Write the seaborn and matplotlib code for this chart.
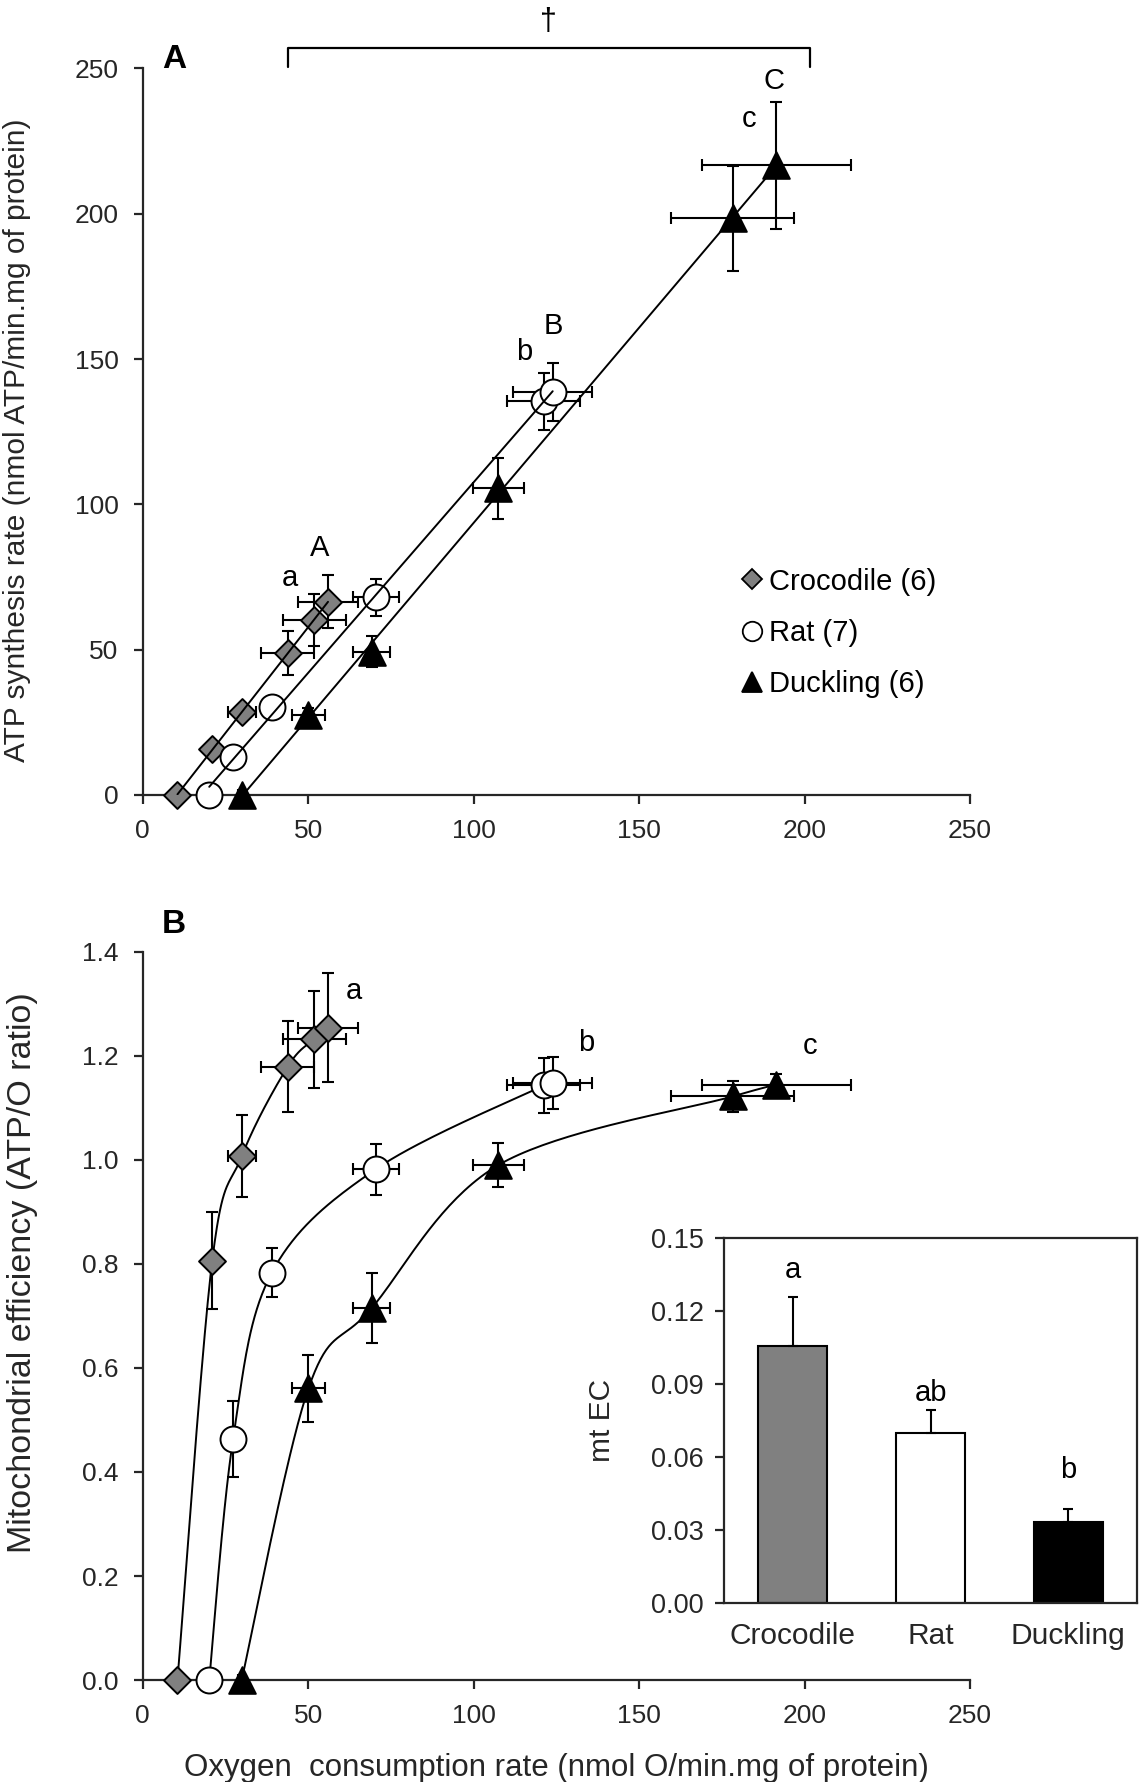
import numpy as np
import matplotlib
matplotlib.use("Agg")
import matplotlib.pyplot as plt
from matplotlib.lines import Line2D
import seaborn as sns

# oxygen consumption (x), shared by both panels
croc_o2 = [10.5, 21.0, 30.0, 43.8, 51.8, 56.0]
rat_o2 = [20.1, 27.3, 39.0, 70.4, 121.2, 123.9]
duck_o2 = [29.9, 50.1, 69.2, 107.5, 178.3, 191.5]
croc_o2_err = [0.5, 1.0, 4.2, 8.0, 9.5, 9.0]
rat_o2_err = [0.5, 1.0, 1.5, 7.0, 11.0, 12.0]
duck_o2_err = [1.0, 5.0, 5.6, 7.8, 18.5, 22.5]

# panel A: ATP synthesis rate
croc_atp = [0, 15.8, 28.5, 48.9, 60.1, 66.5]
rat_atp = [0, 13.2, 30.4, 68.0, 135.4, 138.7]
duck_atp = [0, 27.5, 49.3, 105.5, 198.4, 216.6]
croc_atp_err = [0, 1.0, 2.0, 7.5, 9.0, 9.2]
rat_atp_err = [0, 1.0, 2.0, 6.3, 9.7, 10.0]
duck_atp_err = [0, 2.5, 5.4, 10.5, 18.0, 22.0]

# panel B: ATP/O ratio
croc_eff = [0, 0.806, 1.008, 1.179, 1.232, 1.254]
rat_eff = [0, 0.463, 0.783, 0.982, 1.143, 1.147]
duck_eff = [0, 0.561, 0.715, 0.990, 1.122, 1.144]
croc_eff_err = [0, 0.093, 0.079, 0.087, 0.093, 0.105]
rat_eff_err = [0, 0.073, 0.047, 0.049, 0.053, 0.050]
duck_eff_err = [0, 0.064, 0.068, 0.043, 0.030, 0.021]

# inset: mitochondrial efficiency coefficient
species = ["Crocodile", "Rat", "Duckling"]
mtec = [0.1056, 0.0696, 0.0330]
mtec_err = [0.0201, 0.0096, 0.0055]
mtec_letters = ["a", "ab", "b"]
mtec_letter_y = [0.1367, 0.0863, 0.0545]

legend_labels = ["Crocodile (6)", "Rat (7)", "Duckling (6)"]
GREY = "#808080"

sns.set_theme(style="ticks")
plt.rcParams["font.family"] = ["Liberation Sans", "DejaVu Sans"]
plt.rcParams["axes.linewidth"] = 1.6
plt.rcParams["xtick.major.width"] = 1.6
plt.rcParams["ytick.major.width"] = 1.6
plt.rcParams["xtick.major.size"] = 6.5
plt.rcParams["ytick.major.size"] = 6.5
plt.rcParams["xtick.labelsize"] = 19
plt.rcParams["ytick.labelsize"] = 19
plt.rcParams["text.color"] = "black"

series = [
    (croc_o2, croc_o2_err, croc_atp, croc_atp_err, croc_eff, croc_eff_err, "D", 13.7, GREY),
    (rat_o2, rat_o2_err, rat_atp, rat_atp_err, rat_eff, rat_eff_err, "o", 18.7, "white"),
    (duck_o2, duck_o2_err, duck_atp, duck_atp_err, duck_eff, duck_eff_err, "^", 19.2, "black"),
]


def smooth_curve(x, y, n=40):
    # Excel-like smoothed line (Catmull-Rom bezier)
    p = np.column_stack([x, y]).astype(float)
    p = np.vstack([p[0], p, p[-1]])
    segs = []
    t = np.linspace(0, 1, n)[:, None]
    for i in range(1, len(p) - 2):
        p0, p1, p2, p3 = p[i - 1], p[i], p[i + 1], p[i + 2]
        c1 = p1 + (p2 - p0) / 6
        c2 = p2 - (p3 - p1) / 6
        segs.append((1 - t) ** 3 * p1 + 3 * (1 - t) ** 2 * t * c1
                    + 3 * (1 - t) * t ** 2 * c2 + t ** 3 * p2)
    return np.vstack(segs)


fig = plt.figure(figsize=(11.39, 17.82), dpi=100)
axA = fig.add_axes([0.1253, 0.5539, 0.7263, 0.4077])
axB = fig.add_axes([0.1253, 0.0572, 0.7263, 0.4087])
axI = fig.add_axes([0.6357, 0.1006, 0.3625, 0.2048])

# ---- panel A
for xo, xe, ya, yae, yb, ybe, mk, ms, col in series:
    axA.errorbar(xo, ya, xerr=xe, yerr=yae, fmt="none", ecolor="black",
                 elinewidth=1.5, capsize=4, capthick=1.5, zorder=2, clip_on=False)
    sns.scatterplot(x=xo, y=ya, marker=mk, s=ms ** 2, color=col, edgecolor="black",
                    linewidth=1.4, legend=False, ax=axA, zorder=3, clip_on=False)
    sns.regplot(x=np.array(xo), y=np.array(ya), scatter=False, ci=None, truncate=True,
                line_kws=dict(color="black", lw=1.4, zorder=4), ax=axA)

axA.set_xlim(0, 250)
axA.set_ylim(0, 250)
axA.set_xticks(range(0, 251, 50))
axA.set_yticks(range(0, 251, 50))
axA.set_xlabel("")
axA.set_ylabel("ATP synthesis rate (nmol ATP/min.mg of protein)", fontsize=21.5)
axA.yaxis.set_label_coords(-0.135, 0.488)
axA.tick_params(axis="y", pad=11)
axA.tick_params(axis="x", pad=11)
sns.despine(ax=axA)

txt = dict(fontsize=21, ha="center", va="center")
axA.text(53.4, 85, "A", **txt)
axA.text(44.5, 74.8, "a", **txt)
axA.text(124.1, 161.3, "B", **txt)
axA.text(115.2, 152.3, "b", **txt)
axA.text(190.7, 245.8, "C", **txt)
axA.text(183.2, 232.5, "c", **txt)
axA.text(0.023, 1.0, "A", transform=axA.transAxes, fontsize=24, fontweight="bold",
         ha="left", va="baseline")

# dagger bracket above panel A
axA.plot([43.8, 43.8, 201.6, 201.6], [250.5, 257, 257, 250.5], color="black",
         lw=1.6, clip_on=False)
axA.text(122.7, 266, "\u2020", fontsize=22, ha="center", va="center")

handles = [Line2D([], [], ls="none", marker=mk, markersize=ms * 0.75, markerfacecolor=col,
                  markeredgecolor="black", markeredgewidth=1.3)
           for *_, mk, ms, col in series]
axA.legend(handles, legend_labels, loc="upper left", bbox_to_anchor=(0.724, 0.313),
           frameon=False, fontsize=21, handlelength=0.7, handletextpad=0.25,
           labelspacing=0.8, borderpad=0, borderaxespad=0)

# ---- panel B
for xo, xe, ya, yae, yb, ybe, mk, ms, col in series:
    curve = smooth_curve(xo, yb)
    sns.lineplot(x=curve[:, 0], y=curve[:, 1], sort=False, estimator=None, color="black",
                 lw=1.4, ax=axB, zorder=1)
    axB.errorbar(xo, yb, xerr=xe, yerr=ybe, fmt="none", ecolor="black",
                 elinewidth=1.5, capsize=4, capthick=1.5, zorder=2, clip_on=False)
    sns.scatterplot(x=xo, y=yb, marker=mk, s=ms ** 2, color=col, edgecolor="black",
                    linewidth=1.4, legend=False, ax=axB, zorder=3, clip_on=False)

axB.set_xlim(0, 250)
axB.set_ylim(0, 1.4)
axB.set_xticks(range(0, 251, 50))
axB.set_yticks(np.arange(0, 1.41, 0.2))
axB.set_yticklabels([f"{v:.1f}" for v in np.arange(0, 1.41, 0.2)])
axB.set_xlabel("Oxygen  consumption rate (nmol O/min.mg of protein)", fontsize=22.5, labelpad=18)
axB.set_ylabel("Mitochondrial efficiency (ATP/O ratio)", fontsize=24.5)
axB.yaxis.set_label_coords(-0.127, 0.559)
axB.tick_params(axis="y", pad=11)
axB.tick_params(axis="x", pad=11)
sns.despine(ax=axB)
axB.text(63.9, 1.324, "a", **txt)
axB.text(134, 1.224, "b", **txt)
axB.text(201.8, 1.219, "c", **txt)
axB.text(0.023, 1.0257, "B", transform=axB.transAxes, fontsize=24, fontweight="bold",
         ha="left", va="baseline")

# ---- inset bar chart
axI.set_facecolor("white")
sns.barplot(x=species, y=mtec, hue=species, palette=[GREY, "white", "black"],
            edgecolor="black", linewidth=1.5, width=0.5, legend=False, ax=axI)
axI.errorbar(range(len(species)), mtec, yerr=[np.zeros(len(mtec)), mtec_err], fmt="none",
             ecolor="black", elinewidth=1.5, capsize=3.6, capthick=1.5)
for i, lab in enumerate(mtec_letters):
    axI.text(i, mtec_letter_y[i], lab, **txt)
axI.set_xlim(-0.5, 2.5)
axI.set_ylim(0, 0.15)
axI.set_yticks(np.arange(0, 0.151, 0.03))
axI.set_yticklabels([f"{v:.2f}" for v in np.arange(0, 0.151, 0.03)])
axI.set_ylabel("mt EC", fontsize=21.5)
axI.yaxis.set_label_coords(-0.262, 0.5)
axI.set_xlabel("")
axI.tick_params(axis="x", length=0, labelsize=21.5, pad=14)
axI.tick_params(axis="y", labelsize=19.5, pad=8)
for s in axI.spines.values():
    s.set_visible(True)
    s.set_linewidth(1.6)

fig.savefig("out.png", dpi=100)
